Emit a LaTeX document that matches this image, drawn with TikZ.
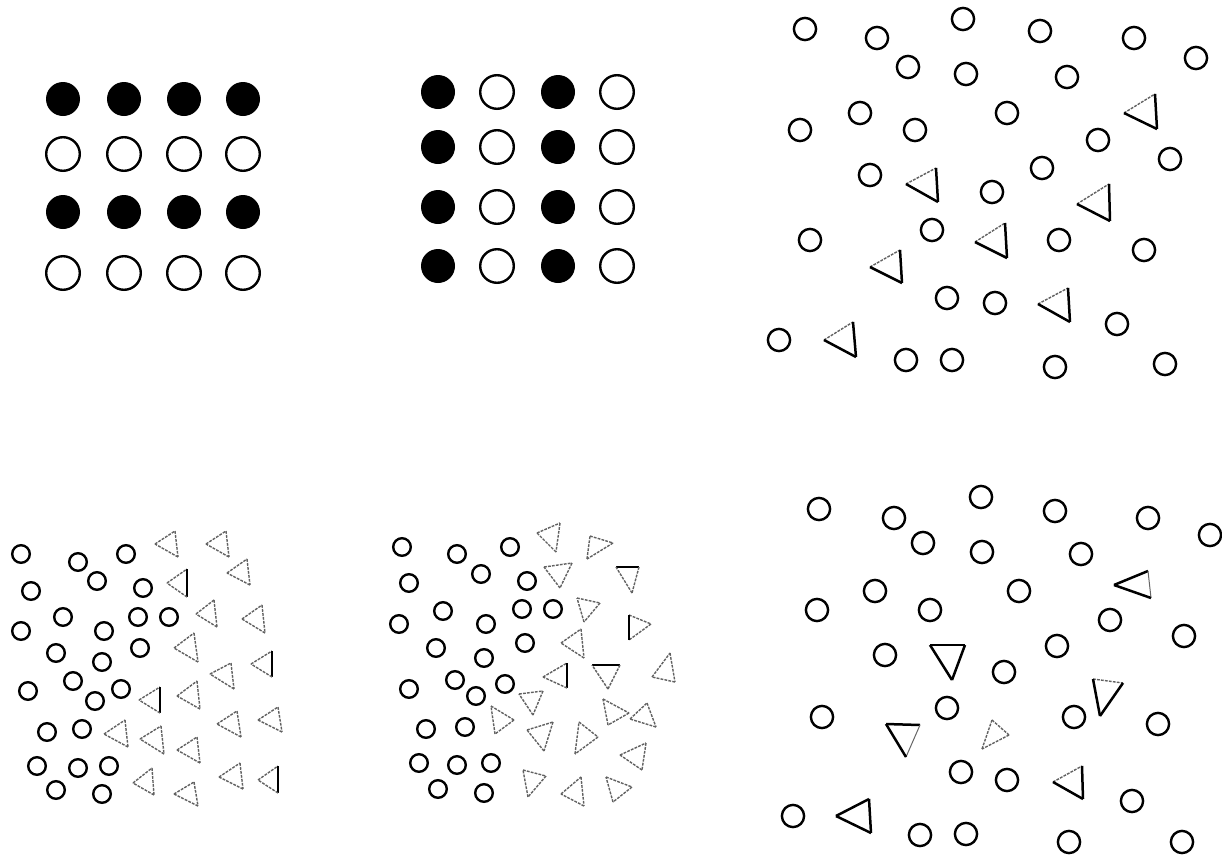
\documentclass[tikz,border=0pt]{standalone}
\usepackage{tikz}

\tikzset{
  fulldot/.style={circle, fill, inner sep=0pt, minimum size=17pt},
  dot/.style={circle, draw, line width=1.2pt, inner sep=0pt, minimum size=16.8pt},
  ring/.style={circle, draw, line width=1.2pt, inner sep=0pt, minimum size=11.1pt},
  smallring/.style={circle, draw, line width=1.2pt, inner sep=0pt, minimum size=8.8pt},
  solidedge/.style={line width=1.25pt},
  grayedge/.style={black!62, line width=0.7pt, dash pattern=on 1.4pt off 0.6pt},
  thinedge/.style={black!60, line width=0.5pt}
}
% corners, then the styles of the edges 1-2, 2-3 and 3-1
\newcommand{\tri}[6]{\draw[#4] #1 -- #2; \draw[#5] #2 -- #3; \draw[#6] #3 -- #1;}
\newcommand{\gtri}[3]{\tri{#1}{#2}{#3}{grayedge}{grayedge}{grayedge}}
\newcommand{\htri}[3]{\tri{#1}{#2}{#3}{grayedge}{solidedge}{solidedge}}

\begin{document}
\begin{tikzpicture}[x=0.5pt, y=-0.5pt]
  \useasboundingbox (0,0) rectangle (1222,857);
  % Rows
  \foreach \x in {63,124,184,243}
    \foreach \y/\s in {99/fulldot,154/dot,212/fulldot,273/dot}
      \node[\s] (row-\x-\y) at (\x,\y) {};
  % Columns
  \foreach \x/\s in {438/fulldot,497/dot,558/fulldot,617/dot}
    \foreach \y in {92,147,207,266}
      \node[\s] (col-\x-\y) at (\x,\y) {};
  % Scattered, top right
  \foreach \x/\y [count=\i] in {805/29,877/38,963/19,1040/31,1134/38,1196/58,
      908/67,966/74,1067/77,800/130,860/113,915/130,1007/113,1098/140,
      1170/159,870/175,1042/168,992/192,810/240,932/230,1059/240,1144/250,
      947/298,995/303,1117/324,779/340,906/360,952/360,1055/367,1165/364}
    \node[ring] (a\i) at (\x,\y) {};
  \htri{(1124,113)}{(1155,94)}{(1157,129)}
  \htri{(906,184)}{(936,168)}{(938,202)}
  \htri{(1077,204)}{(1109,184)}{(1110,221)}
  \htri{(975,242)}{(1005,223)}{(1007,258)}
  \htri{(870,267)}{(900,250)}{(902,283)}
  \htri{(1038,304)}{(1068,288)}{(1070,322)}
  \htri{(824,340)}{(853,322)}{(856,357)}
  % Scattered, bottom right
  \foreach \x/\y [count=\i] in {819/509,894/518,981/497,1055/511,1148/518,1210/535,
      923/543,982/552,1081/554,817/610,875/591,930/610,1019/591,1110/620,
      1184/636,885/655,1057/646,1004/672,822/717,947/708,1074/717,1158/724,
      961/772,1007/780,1132/801,793/816,920/835,966/834,1069/842,1182/842}
    \node[ring] (b\i) at (\x,\y) {};
  \tri{(1114,585)}{(1148,571)}{(1151,598)}{solidedge}{thinedge}{solidedge}
  \tri{(930,645)}{(965,645)}{(952,680)}{solidedge}{solidedge}{solidedge}
  \htri{(1093,679)}{(1123,683)}{(1100,716)}
  \tri{(886,724)}{(920,725)}{(906,757)}{solidedge}{thinedge}{solidedge}
  \gtri{(992,720)}{(1009,735)}{(982,749)}
  \htri{(1053,782)}{(1082,766)}{(1083,799)}
  \tri{(836,816)}{(869,799)}{(871,833)}{solidedge}{solidedge}{solidedge}
  % Mixture, bottom left
  \foreach \x/\y [count=\i] in {21/554,78/562,126/554,31/591,97/581,143/588,
      63/617,138/617,169/617,21/631,104/631,56/653,140/648,102/662,
      73/681,28/691,95/701,121/689,47/732,82/729,37/766,78/768,
      109/766,56/790,102/794}
    \node[smallring] (c\i) at (\x,\y) {};
  \gtri{(155,544)}{(175,531)}{(178,557)}
  \gtri{(206,544)}{(226,531)}{(229,557)}
  \gtri{(227,573)}{(247,559)}{(250,585)}
  \tri{(167,583)}{(187,569)}{(187,597)}{grayedge}{solidedge}{grayedge}
  \gtri{(196,614)}{(214,600)}{(217,627)}
  \gtri{(242,619)}{(262,605)}{(265,633)}
  \gtri{(174,648)}{(194,633)}{(198,662)}
  \tri{(251,664)}{(272,651)}{(272,677)}{grayedge}{solidedge}{grayedge}
  \gtri{(210,674)}{(231,663)}{(234,689)}
  \tri{(139,700)}{(160,687)}{(160,713)}{grayedge}{solidedge}{grayedge}
  \gtri{(177,696)}{(197,681)}{(200,709)}
  \gtri{(258,720)}{(278,707)}{(282,732)}
  \gtri{(217,724)}{(237,711)}{(241,737)}
  \gtri{(104,734)}{(125,720)}{(128,747)}
  \gtri{(140,739)}{(161,726)}{(164,754)}
  \gtri{(177,750)}{(197,737)}{(200,763)}
  \gtri{(219,777)}{(240,763)}{(243,789)}
  \tri{(258,780)}{(278,766)}{(278,793)}{grayedge}{solidedge}{grayedge}
  \gtri{(133,783)}{(152,768)}{(154,795)}
  \gtri{(174,794)}{(194,782)}{(198,806)}
  % Mixture, bottom middle
  \foreach \x/\y [count=\i] in {402/547,457/554,510/547,409/583,481/574,527/581,
      443/611,522/609,553/609,399/624,486/624,436/648,525/643,484/658,
      455/680,409/689,476/696,505/684,426/729,465/727,419/763,457/765,
      491/763,438/789,484/793}
    \node[smallring] (d\i) at (\x,\y) {};
  \gtri{(537,533)}{(560,523)}{(556,552)}
  \gtri{(590,536)}{(613,543)}{(587,559)}
  \gtri{(544,567)}{(572,563)}{(560,588)}
  \tri{(616,567)}{(639,567)}{(632,593)}{solidedge}{grayedge}{grayedge}
  \gtri{(577,598)}{(600,603)}{(584,622)}
  \tri{(629,615)}{(651,624)}{(629,640)}{grayedge}{grayedge}{solidedge}
  \gtri{(561,643)}{(581,629)}{(584,658)}
  \tri{(543,677)}{(567,663)}{(567,688)}{grayedge}{solidedge}{grayedge}
  \tri{(592,665)}{(620,665)}{(608,689)}{solidedge}{grayedge}{grayedge}
  \gtri{(652,677)}{(670,653)}{(675,682)}
  \gtri{(519,694)}{(543,691)}{(533,715)}
  \gtri{(603,699)}{(629,713)}{(608,725)}
  \gtri{(630,719)}{(647,703)}{(656,727)}
  \gtri{(491,706)}{(514,720)}{(495,734)}
  \gtri{(527,730)}{(553,722)}{(544,751)}
  \gtri{(579,722)}{(598,737)}{(575,754)}
  \gtri{(620,755)}{(646,743)}{(642,770)}
  \gtri{(523,770)}{(546,776)}{(528,797)}
  \gtri{(561,794)}{(581,777)}{(584,806)}
  \gtri{(606,777)}{(632,787)}{(613,802)}
\end{tikzpicture}
\end{document}
